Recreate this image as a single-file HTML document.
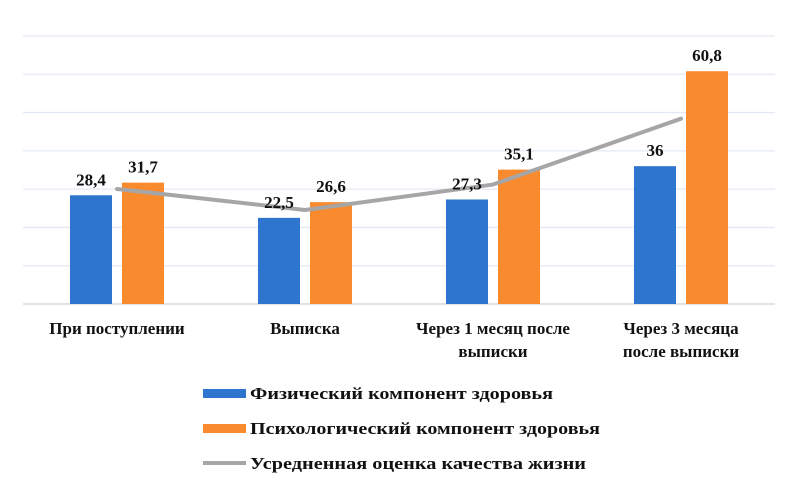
<!DOCTYPE html>
<html><head><meta charset="utf-8"><style>
body{margin:0;background:#fff;}
svg text{font-family:"Liberation Serif",serif;font-weight:bold;fill:#111;}
</style></head><body>
<svg id="chart" width="800" height="481" xmlns="http://www.w3.org/2000/svg">
<g id="grid"></g><g id="bars"></g><g id="line"></g><g id="labels"></g><g id="cats"></g>
<g id="legend">
 <rect x="203" y="389" width="43" height="9" fill="#2e75cf"/>
 <text x="250" y="399" font-size="17" textLength="303" lengthAdjust="spacingAndGlyphs">Физический компонент здоровья</text>
 <rect x="203" y="424" width="43" height="9" fill="#f98a2d"/>
 <text x="250" y="434" font-size="17" textLength="350" lengthAdjust="spacingAndGlyphs">Психологический компонент здоровья</text>
 <line x1="203" y1="463" x2="246" y2="463" stroke="#a6a6a6" stroke-width="4"/>
 <text x="250" y="469" font-size="17" textLength="336" lengthAdjust="spacingAndGlyphs">Усредненная оценка качества жизни</text>
</g>
</svg>
<script>
const categories=[["При поступлении"],["Выписка"],["Через 1 месяц после","выписки"],["Через 3 месяца","после выписки"]];
const physical=[28.4,22.5,27.3,36];
const psych=[31.7,26.6,35.1,60.8];
const average=[30.05,24.55,31.2,48.4];
const yTicks=[0,10,20,30,40,50,60,70];
(function(){
const NS="http://www.w3.org/2000/svg";
const left=23,right=775,base=304,plotTop=36,ymax=70;
const y=v=>base-(v/ymax)*(base-plotTop);
const bw=(right-left)/categories.length;
const cx=i=>left+bw*(i+0.5);
function mk(tag,attrs,parent){const e=document.createElementNS(NS,tag);for(const k in attrs)e.setAttribute(k,attrs[k]);document.getElementById(parent).appendChild(e);return e;}
yTicks.forEach(t=>{const l=mk('line',{x1:left,x2:right,y1:y(t),y2:y(t),stroke:t===0?'#d9d9d9':'#e3e9f2','stroke-width':t===0?1.5:1.3},'grid');

});
const fmt=v=>String(v).replace('.',',');
categories.forEach((c,i)=>{
 const bx=cx(i)-47, ox=cx(i)+5;
 const b=mk('rect',{x:bx,y:y(physical[i]),width:42,height:base-y(physical[i]),fill:'#2e75cf'},'bars');
 
 
 const o=mk('rect',{x:ox,y:y(psych[i]),width:42,height:base-y(psych[i]),fill:'#f98a2d'},'bars');
 
 
 const t1=mk('text',{x:bx+21,y:y(physical[i])-10,'text-anchor':'middle','font-size':17},'labels');t1.textContent=fmt(physical[i]);
 
 
 const t2=mk('text',{x:ox+21,y:y(psych[i])-10,'text-anchor':'middle','font-size':17},'labels');t2.textContent=fmt(psych[i]);
 
 
 c.forEach((ln,j)=>{const t=mk('text',{x:cx(i),y:334+j*23,'text-anchor':'middle','font-size':17},'cats');t.textContent=ln;
 
 });
});
const pl=mk('polyline',{points:average.map((v,i)=>cx(i)+','+y(v)).join(' '),fill:'none',stroke:'#a6a6a6','stroke-width':4,'stroke-linejoin':'round','stroke-linecap':'round'},'line');


})();
</script>
</body></html>
